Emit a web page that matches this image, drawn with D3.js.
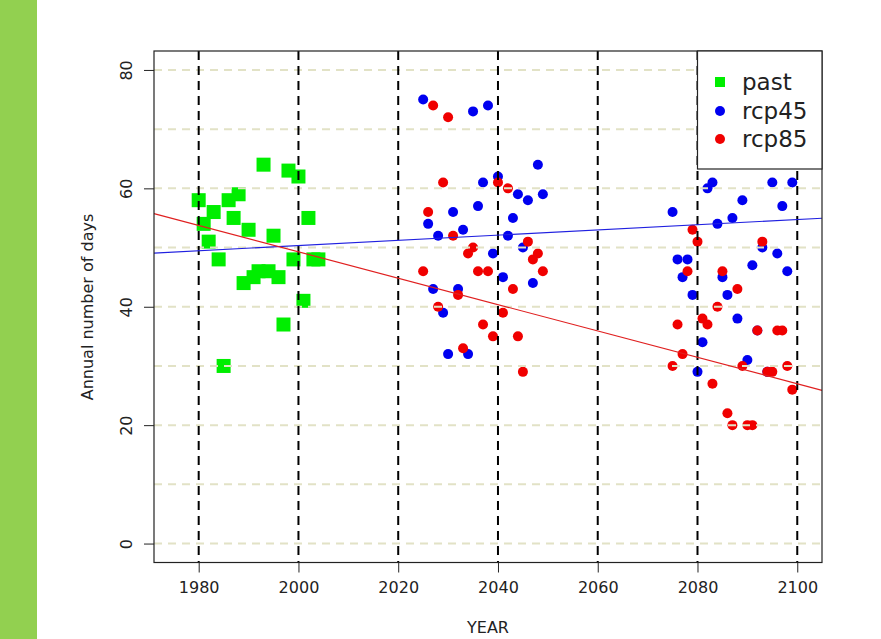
<!DOCTYPE html>
<html><head><meta charset="utf-8">
<script src="https://cdn.jsdelivr.net/npm/d3@7"></script>
<style>body{margin:0;background:#fff;} svg text{font-family:"DejaVu Sans",sans-serif;fill:#222;}</style>
</head><body><svg id="c" width="881" height="639"></svg>
<script>
// ---- data ----
const pastYears = [1980,1981,1982,1983,1984,1985,1986,1987,1988,1989,1990,1991,1992,1993,1994,1995,1996,1997,1998,1999,2000,2001,2002,2003,2004];
const pastValues = [58,54,51,56,48,30,58,55,59,44,53,45,46,64,46,52,45,37,63,48,62,41,55,48,48];
const midYears = [2025,2026,2027,2028,2029,2030,2031,2032,2033,2034,2035,2036,2037,2038,2039,2040,2041,2042,2043,2044,2045,2046,2047,2048,2049];
const rcp45Mid = [75,54,43,52,39,32,56,43,53,32,73,57,61,74,49,62,45,52,55,59,50,58,44,64,59];
const rcp85Mid = [46,56,74,40,61,72,52,42,33,49,50,46,37,46,35,61,39,60,43,35,29,51,48,49,46];
const endYears = [2075,2076,2077,2078,2079,2080,2081,2082,2083,2084,2085,2086,2087,2088,2089,2090,2091,2092,2093,2094,2095,2096,2097,2098,2099];
const rcp45End = [56,48,45,48,42,29,34,60,61,54,45,42,55,38,58,31,47,36,50,29,61,49,57,46,61];
const rcp85End = [30,37,32,46,53,51,38,37,27,40,46,22,20,43,30,20,20,36,51,29,29,36,36,30,26];
const trendYears = [1971.04, 2104.96];
const rcp45Trend = [49.07, 54.95];
const rcp85Trend = [55.74, 25.88];
const xTicks = [1980,2000,2020,2040,2060,2080,2100];
const yTicks = [0,20,40,60,80];
const yGrid = [0,10,20,30,40,50,60,70,80];
const legendLabels = ["past","rcp45","rcp85"];

// ---- layout ----
const svg = d3.select("#c");
const L = 154, R = 822, T = 51, B = 562.5;
const x = d3.scaleLinear().domain([1971.04, 2104.96]).range([L, R]);
const y = d3.scaleLinear().domain([-3.2, 83.2]).range([B, T]);

svg.append("rect").attr("x",0).attr("y",0).attr("width",37).attr("height",639).attr("fill","#92d050");

const plot = svg.append("g");
// points
plot.selectAll("rect.past").data(pastYears.map((d,i)=>[d,pastValues[i]])).enter()
  .append("rect").attr("x",d=>x(d[0])-7).attr("y",d=>y(d[1])-7).attr("width",14).attr("height",14).attr("fill","#00ee00");
const blue = midYears.map((d,i)=>[d,rcp45Mid[i]]).concat(endYears.map((d,i)=>[d,rcp45End[i]]));
const red = midYears.map((d,i)=>[d,rcp85Mid[i]]).concat(endYears.map((d,i)=>[d,rcp85End[i]]));
plot.selectAll("circle.b").data(blue).enter().append("circle").attr("cx",d=>x(d[0])).attr("cy",d=>y(d[1])).attr("r",5).attr("fill","#0000f0");
plot.selectAll("circle.r").data(red).enter().append("circle").attr("cx",d=>x(d[0])).attr("cy",d=>y(d[1])).attr("r",5).attr("fill","#f00000");

// grid
plot.selectAll("line.hg").data(yGrid).enter().append("line")
  .attr("x1",L).attr("x2",R).attr("y1",d=>y(d)).attr("y2",d=>y(d))
  .attr("stroke","#e2e2c6").attr("stroke-width",2).attr("stroke-dasharray","8,6");
plot.selectAll("line.vg").data(xTicks).enter().append("line")
  .attr("x1",d=>x(d)).attr("x2",d=>x(d)).attr("y1",T).attr("y2",B)
  .attr("stroke","#000").attr("stroke-width",2).attr("stroke-dasharray","9,6");

// trend lines
const line = d3.line().x(d=>x(d[0])).y(d=>y(d[1]));
plot.append("path").attr("d",line(trendYears.map((d,i)=>[d,rcp45Trend[i]]))).attr("stroke","#2020e0").attr("stroke-width",1.2).attr("fill","none");
plot.append("path").attr("d",line(trendYears.map((d,i)=>[d,rcp85Trend[i]]))).attr("stroke","#e02020").attr("stroke-width",1.2).attr("fill","none");

// box
svg.append("rect").attr("x",L).attr("y",T).attr("width",R-L).attr("height",B-T).attr("fill","none").attr("stroke","#222").attr("stroke-width",1.2);

// axes
const xa = svg.append("g").attr("transform",`translate(0,${B})`)
  .call(d3.axisBottom(x).tickValues(xTicks).tickSize(10).tickFormat(d3.format("d")));
xa.select(".domain").remove();
xa.selectAll("text").attr("font-size",16).attr("dy",null).attr("y",30).attr("font-family","DejaVu Sans");
xa.selectAll("line").attr("stroke","#222");
const ya = svg.append("g").attr("transform",`translate(${L},0)`)
  .call(d3.axisLeft(y).tickValues(yTicks).tickSize(10).tickFormat(d3.format("d")));
ya.select(".domain").remove();
ya.selectAll("line").attr("stroke","#222");
ya.selectAll("text").attr("font-size",16).attr("font-family","DejaVu Sans")
  .attr("x",null).attr("dy",null).attr("text-anchor","middle")
  .attr("transform","translate(-28,0) rotate(-90)").attr("dy","0.35em");

svg.append("text").attr("x",488).attr("y",627).attr("dy","0.35em").attr("text-anchor","middle").attr("font-size",16).text("YEAR");
svg.append("text").attr("transform","translate(87,307) rotate(-90)").attr("dy","0.35em").attr("text-anchor","middle").attr("font-size",16).text("Annual number of days");

// legend
const lg = svg.append("g");
lg.append("rect").attr("x",697.5).attr("y",T).attr("width",R-697.5).attr("height",118).attr("fill","#fff").attr("stroke","#222").attr("stroke-width",1.2);
const rows = [82,111,139];
lg.append("rect").attr("x",715).attr("y",rows[0]-5).attr("width",10).attr("height",10).attr("fill","#00ee00");
lg.append("circle").attr("cx",720).attr("cy",rows[1]).attr("r",5).attr("fill","#0000f0");
lg.append("circle").attr("cx",720).attr("cy",rows[2]).attr("r",5).attr("fill","#f00000");
lg.selectAll("text").data(legendLabels).enter().append("text")
  .attr("x",742).attr("y",(d,i)=>rows[i]).attr("dy","0.35em").attr("font-size",23).text(d=>d);
</script></body></html>
